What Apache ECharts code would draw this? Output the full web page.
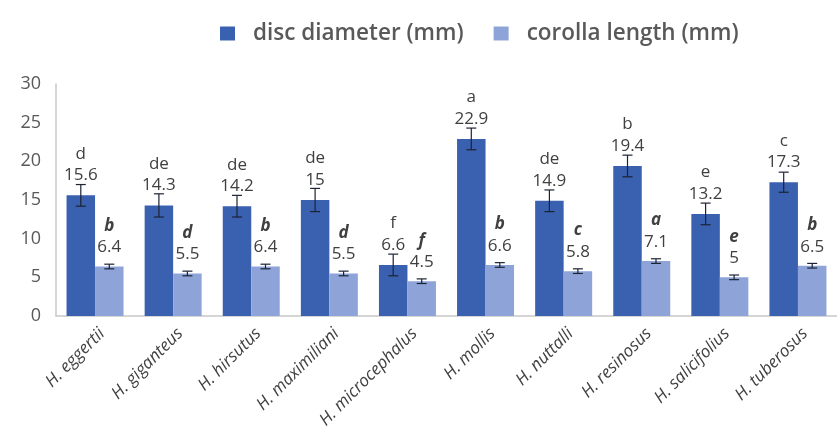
<!DOCTYPE html>
<html>
<head>
<meta charset="utf-8">
<script src="https://cdn.jsdelivr.net/npm/echarts@6/dist/echarts.min.js"></script>
<style>
  html, body { margin: 0; padding: 0; background: #ffffff; }
  #chart { width: 837px; height: 439px; }
</style>
</head>
<body>
<div id="chart"></div>
<script>
// Helianthus species and their floral measurements
const species = ['H. eggertii', 'H. giganteus', 'H. hirsutus', 'H. maximiliani', 'H. microcephalus',
  'H. mollis', 'H. nuttalli', 'H. resinosus', 'H. salicifolius', 'H. tuberosus'];

const discDiameter = [15.6, 14.3, 14.2, 15, 6.6, 22.9, 14.9, 19.4, 13.2, 17.3];
const discError = [1.4, 1.5, 1.4, 1.5, 1.4, 1.4, 1.4, 1.4, 1.4, 1.3];
const discLetters = ['d', 'de', 'de', 'de', 'f', 'a', 'de', 'b', 'e', 'c'];

const corollaLength = [6.4, 5.5, 6.4, 5.5, 4.5, 6.6, 5.8, 7.1, 5, 6.5];
const corollaError = [0.3, 0.3, 0.3, 0.3, 0.3, 0.3, 0.3, 0.3, 0.3, 0.3];
const corollaLetters = ['b', 'd', 'b', 'd', 'f', 'b', 'c', 'a', 'e', 'b'];

const yTicks = [0, 5, 10, 15, 20, 25, 30];

const darkBlue = '#3a60b0';
const lightBlue = '#8ea4d8';
const textColor = '#404040';
const font = 'Open Sans';

const chart = echarts.init(document.getElementById('chart'));

// Draws a capped error bar centred on one bar of the group
function errorBarRenderer(values, errors, seriesIndex) {
  return function (params, api) {
    const i = params.dataIndex;
    const v = values[i];
    const e = errors[i];
    const top = api.coord([i, v + e]);
    const bottom = api.coord([i, v - e]);
    const barW = 28.5;
    const offset = seriesIndex === 0 ? -barW / 2 : barW / 2;
    const x = top[0] + offset;
    const cap = 5;
    const style = { stroke: '#1c2333', lineWidth: 1.2 };
    return {
      type: 'group',
      children: [
        { type: 'line', shape: { x1: x, y1: top[1], x2: x, y2: bottom[1] }, style },
        { type: 'line', shape: { x1: x - cap, y1: top[1], x2: x + cap, y2: top[1] }, style },
        { type: 'line', shape: { x1: x - cap, y1: bottom[1], x2: x + cap, y2: bottom[1] }, style }
      ]
    };
  };
}

function labelFormatter(letters, italicLetter) {
  return function (p) {
    const key = italicLetter ? 'li' : 'l';
    return '{' + key + '|' + letters[p.dataIndex] + '}\n{v|' + p.value + '}';
  };
}

const labelRich = {
  l: { fontSize: 17, color: textColor, fontFamily: font, lineHeight: 25 },
  li: { fontSize: 17, color: textColor, fontFamily: font, fontStyle: 'italic', fontWeight: 'bold', lineHeight: 25 },
  v: { fontSize: 17, color: textColor, fontFamily: font, lineHeight: 18 }
};

chart.setOption({
  animation: false,
  backgroundColor: '#ffffff',
  legend: {
    top: 17,
    left: 215,
    itemWidth: 15,
    itemHeight: 14,
    itemGap: 30,
    icon: 'rect',
    textStyle: { fontSize: 22.5, fontWeight: 600, color: '#595959', fontFamily: font, padding: [0, 0, 0, 13] },
    data: ['disc diameter (mm)', 'corolla length (mm)']
  },
  grid: { left: 56, top: 84, width: 790, height: 232, containLabel: false },
  xAxis: {
    type: 'category',
    data: species,
    axisLine: { lineStyle: { color: '#c8c8c8', width: 1.5 } },
    axisTick: { show: false },
    axisLabel: {
      rotate: 45,
      interval: 0,
      margin: 22,
      padding: [0, -10, 0, 0],
      fontSize: 17,
      fontStyle: 'italic',
      color: textColor,
      fontFamily: font
    }
  },
  yAxis: {
    type: 'value',
    min: yTicks[0],
    max: yTicks[yTicks.length - 1],
    interval: 5,
    axisLine: { show: true, lineStyle: { color: '#c8c8c8', width: 1.5 } },
    axisTick: { show: false },
    splitLine: { show: false },
    axisLabel: { fontSize: 18, color: '#595959', fontFamily: font, margin: 15 }
  },
  series: [
    {
      name: 'disc diameter (mm)',
      type: 'bar',
      data: discDiameter,
      barWidth: 28.5,
      barGap: '0%',
      itemStyle: { color: darkBlue },
      label: {
        show: true,
        position: 'top',
        distance: 11,
        formatter: labelFormatter(discLetters, false),
        rich: labelRich
      }
    },
    {
      name: 'corolla length (mm)',
      type: 'bar',
      data: corollaLength,
      barWidth: 28.5,
      barGap: '0%',
      itemStyle: { color: lightBlue },
      label: {
        show: true,
        position: 'top',
        distance: 10,
        formatter: labelFormatter(corollaLetters, true),
        rich: labelRich
      }
    },
    {
      type: 'custom',
      renderItem: errorBarRenderer(discDiameter, discError, 0),
      data: discDiameter.map((v, i) => [i, v]),
      z: 10,
      silent: true
    },
    {
      type: 'custom',
      renderItem: errorBarRenderer(corollaLength, corollaError, 1),
      data: corollaLength.map((v, i) => [i, v]),
      z: 10,
      silent: true
    }
  ]
});
</script>
</body>
</html>
